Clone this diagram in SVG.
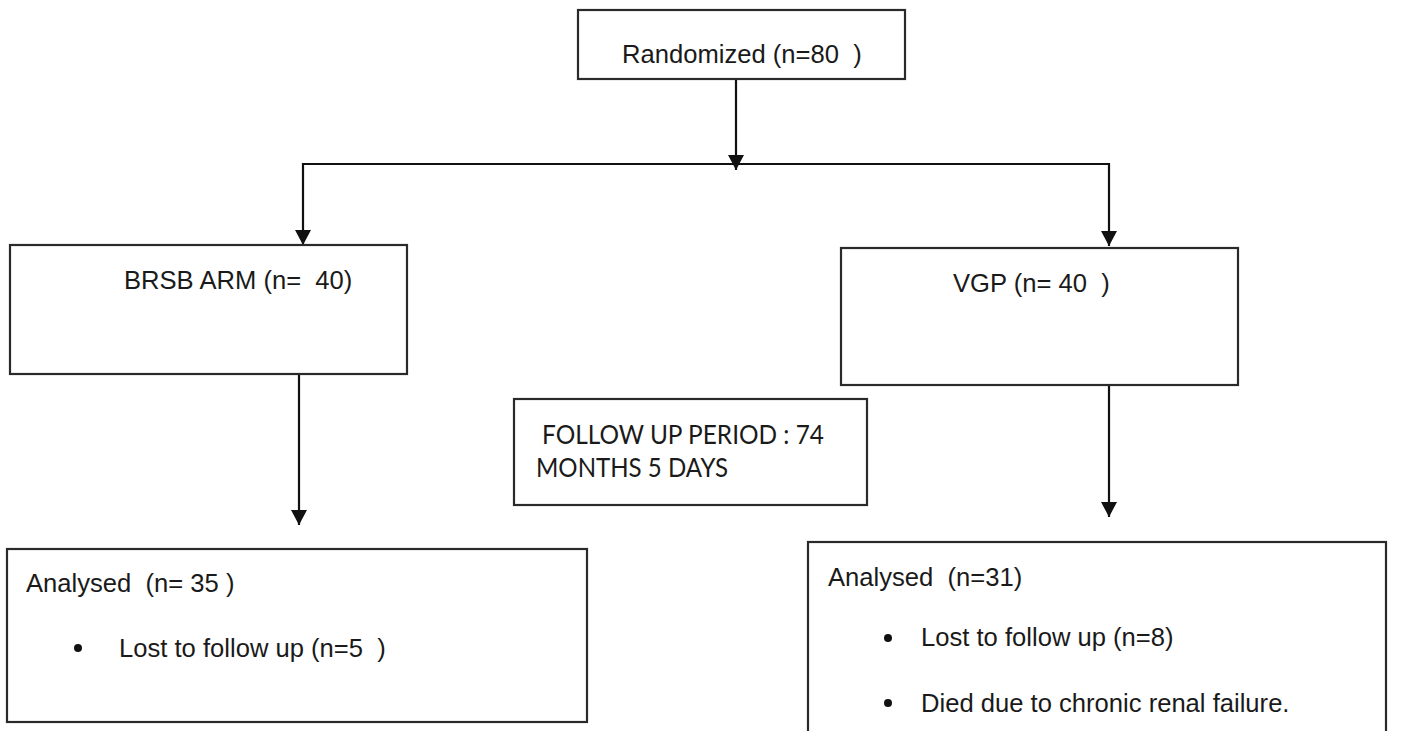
<svg xmlns="http://www.w3.org/2000/svg" width="1403" height="731" viewBox="0 0 1403 731">
  <style>
    .box { fill: #ffffff; stroke: #2a2a2a; stroke-width: 2.2; }
    .ln { fill: none; stroke: #111111; stroke-width: 2.2; }
    .t { font-family: "Liberation Sans", Arial, sans-serif; font-size: 25.6px; fill: #1a1a1a; white-space: pre; }
    .c { font-family: Lato, "Open Sans", sans-serif; font-size: 26.5px; fill: #1a1a1a; white-space: pre; }
    .dot { fill: #111111; }
  </style>
  <defs>
    <marker id="arr" markerUnits="userSpaceOnUse" markerWidth="16" markerHeight="16" viewBox="0 0 16 16" refX="15" refY="8" orient="auto">
      <path d="M0,0 L15,8 L0,16 Z" fill="#111111"/>
    </marker>
  </defs>
  <rect x="0" y="0" width="1403" height="731" fill="#ffffff"/>

  <g id="connectors">
    <line class="ln" x1="303" y1="164" x2="1109" y2="164"/>
    <line class="ln" x1="736" y1="79" x2="736" y2="170" marker-end="url(#arr)"/>
    <line class="ln" x1="303" y1="163" x2="303" y2="245" marker-end="url(#arr)"/>
    <line class="ln" x1="1109" y1="163" x2="1109" y2="246" marker-end="url(#arr)"/>
    <line class="ln" x1="299" y1="375" x2="299" y2="525" marker-end="url(#arr)"/>
    <line class="ln" x1="1109" y1="377" x2="1109" y2="517" marker-end="url(#arr)"/>
  </g>

  <g id="randomized">
    <rect class="box" x="578" y="10" width="327" height="69"/>
    <text class="t" x="622" y="63">Randomized (n=80  )</text>
  </g>

  <g id="brsb">
    <rect class="box" x="10" y="245" width="397" height="129"/>
    <text class="t" x="124" y="289">BRSB ARM (n=  40)</text>
  </g>

  <g id="vgp">
    <rect class="box" x="841" y="248" width="397" height="137"/>
    <text class="t" x="953" y="292">VGP (n= 40  )</text>
  </g>

  <g id="followup">
    <rect class="box" x="514" y="399" width="353" height="106"/>
    <text class="c" x="542" y="444" textLength="282" lengthAdjust="spacingAndGlyphs">FOLLOW UP PERIOD : 74</text>
    <text class="c" x="536" y="477" textLength="192" lengthAdjust="spacingAndGlyphs">MONTHS 5 DAYS</text>
  </g>

  <g id="analysed-brsb">
    <rect class="box" x="7" y="549" width="580" height="173"/>
    <text class="t" x="26" y="592">Analysed  (n= 35 )</text>
    <circle class="dot" cx="78" cy="648" r="4"/>
    <text class="t" x="119" y="657">Lost to follow up (n=5  )</text>
  </g>

  <g id="analysed-vgp">
    <rect class="box" x="808" y="542" width="578" height="200"/>
    <text class="t" x="828" y="586">Analysed  (n=31)</text>
    <circle class="dot" cx="888" cy="638" r="4"/>
    <text class="t" x="921" y="646">Lost to follow up (n=8)</text>
    <circle class="dot" cx="888" cy="703" r="4"/>
    <text class="t" x="921" y="712">Died due to chronic renal failure.</text>
  </g>
</svg>
